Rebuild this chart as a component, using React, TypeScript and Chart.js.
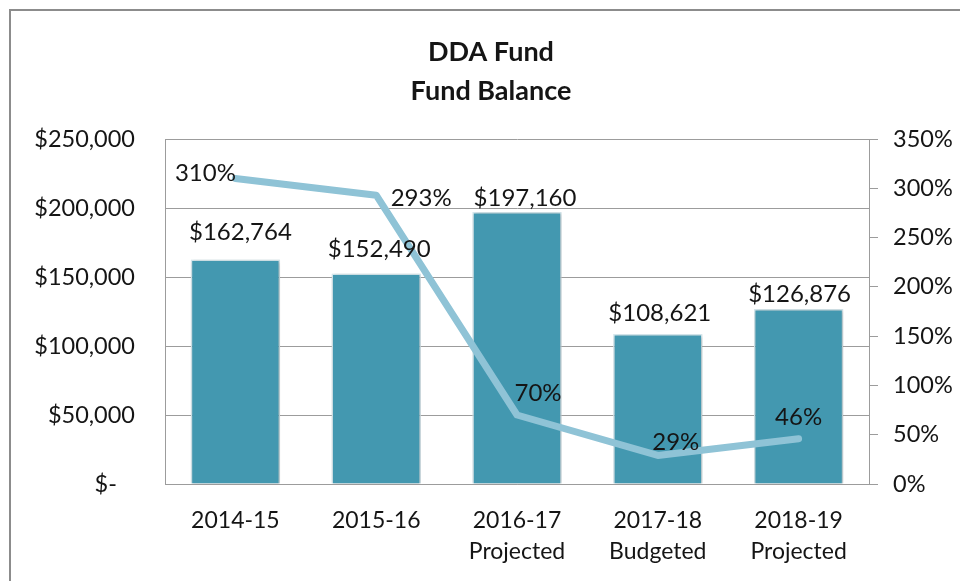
import React, { useEffect, useRef } from 'react';
import { Chart, registerables } from 'chart.js';

Chart.register(...registerables);

const titleLines = ['DDA Fund', 'Fund Balance'];
const categories: (string | string[])[] = [
  '2014-15',
  '2015-16',
  ['2016-17', 'Projected'],
  ['2017-18', 'Budgeted'],
  ['2018-19', 'Projected'],
];
const fundBalance = [162764, 152490, 197160, 108621, 126876];
const balancePercent = [310, 293, 70, 29, 46];
const balanceTicks = [0, 50000, 100000, 150000, 200000, 250000];
const percentTicks = [0, 50, 100, 150, 200, 250, 300, 350];

const FONT = 'Lato, "Open Sans", sans-serif';
const BAR_COLOR = '#4398b0';
const LINE_COLOR = '#8fc3d6';
const GRID_COLOR = '#9c9c9c';
const TEXT_COLOR = '#151515';

const fmtMoney = (v: number) => '$' + v.toLocaleString('en-US');

// label placement offsets (style), relative to library-computed element positions
const barLabelOffsets = [
  [5, -27],
  [3, -24],
  [8, -14],
  [2, -21],
  [1, -15],
];
const lineLabelOffsets = [
  [-30, -5],
  [45, 3],
  [21, -22],
  [18, -13],
  [0, -21],
];

const decorPlugin = {
  id: 'decor',
  beforeDatasetDraw(chart: any, args: any) {
    if (args.index === 0) {
      const ctx = chart.ctx;
      ctx.save();
      ctx.shadowColor = 'rgba(0,0,0,0.25)';
      ctx.shadowBlur = 4;
      ctx.shadowOffsetX = 1;
      ctx.shadowOffsetY = 1;
    }
  },
  afterDatasetDraw(chart: any, args: any) {
    if (args.index === 0) chart.ctx.restore();
  },
  afterDraw(chart: any) {
    const ctx = chart.ctx;
    const area = chart.chartArea;
    ctx.save();
    ctx.fillStyle = TEXT_COLOR;
    ctx.textAlign = 'center';
    ctx.textBaseline = 'middle';
    ctx.font = `bold 27px ${FONT}`;
    const cx = (area.left + area.right) / 2 - 26;
    ctx.fillText(titleLines[0], cx, 52);
    ctx.fillText(titleLines[1], cx, 91);

    ctx.font = `24px ${FONT}`;
    const barMeta = chart.getDatasetMeta(0);
    barMeta.data.forEach((el: any, i: number) => {
      const [dx, dy] = barLabelOffsets[i];
      ctx.fillText(fmtMoney(fundBalance[i]), el.x + dx, el.y + dy);
    });
    const lineMeta = chart.getDatasetMeta(1);
    lineMeta.data.forEach((el: any, i: number) => {
      const [dx, dy] = lineLabelOffsets[i];
      ctx.fillText(balancePercent[i] + '%', el.x + dx, el.y + dy);
    });
    ctx.restore();
  },
};

export default function App() {
  const ref = useRef<HTMLCanvasElement>(null);

  useEffect(() => {
    document.body.style.margin = '0';
    const canvas = ref.current!;
    const chart = new Chart(canvas, {
      type: 'bar',
      data: {
        labels: categories,
        datasets: [
          {
            type: 'bar',
            label: 'Fund Balance',
            data: fundBalance,
            backgroundColor: BAR_COLOR,
            borderColor: '#d8eaf0',
            borderWidth: 1.5,
            barPercentage: 0.635,
            categoryPercentage: 1,
            yAxisID: 'y',
            order: 1,
          },
          {
            type: 'line',
            label: 'Percent',
            data: balancePercent,
            borderColor: LINE_COLOR,
            borderWidth: 7,
            pointRadius: 0,
            tension: 0,
            borderCapStyle: 'round',
            borderJoinStyle: 'round',
            yAxisID: 'y1',
            order: 0,
          } as any,
        ],
      },
      options: {
        responsive: false,
        maintainAspectRatio: false,
        animation: false,
        devicePixelRatio: 1,
        layout: { padding: { top: 139, bottom: 0, left: 0, right: 0 } },
        plugins: {
          legend: { display: false },
          title: { display: false },
          tooltip: { enabled: false },
        },
        scales: {
          x: {
            grid: { display: false, drawTicks: false },
            border: { display: true, color: GRID_COLOR, width: 1 },
            ticks: {
              color: TEXT_COLOR,
              font: { family: FONT, size: 23, lineHeight: 31 / 23 },
              padding: 21,
              maxRotation: 0,
              autoSkip: false,
            },
            afterFit: (s: any) => {
              s.height = 97;
            },
          },
          y: {
            position: 'left',
            min: 0,
            max: 250000,
            afterBuildTicks: (s: any) => {
              s.ticks = balanceTicks.map((v) => ({ value: v }));
            },
            grid: { color: GRID_COLOR, drawTicks: false, lineWidth: 1 },
            border: { display: true, color: GRID_COLOR, width: 1 },
            ticks: {
              color: TEXT_COLOR,
              font: { family: FONT, size: 23.5 },
              padding: 30,
              callback: (v: any) => (Number(v) === 0 ? '$-   ' : fmtMoney(Number(v))),
            },
            afterFit: (s: any) => {
              s.width = 165;
            },
          },
          y1: {
            position: 'right',
            min: 0,
            max: 350,
            afterBuildTicks: (s: any) => {
              s.ticks = percentTicks.map((v) => ({ value: v }));
            },
            grid: {
              drawOnChartArea: false,
              drawTicks: true,
              tickLength: 9,
              tickColor: GRID_COLOR,
              color: GRID_COLOR,
            },
            border: { display: true, color: GRID_COLOR, width: 1 },
            ticks: {
              color: TEXT_COLOR,
              font: { family: FONT, size: 23.5 },
              padding: 15,
              callback: (v: any) => v + '%',
            },
            afterFit: (s: any) => {
              s.width = 91;
            },
          },
        },
      },
      plugins: [decorPlugin],
    });
    return () => chart.destroy();
  }, []);

  return (
    <div style={{ position: 'fixed', left: 0, top: 0, width: 960, height: 581, background: '#fff', overflow: 'hidden' }}>
      <div
        style={{
          position: 'absolute',
          left: 9,
          top: 9,
          width: 1000,
          height: 700,
          borderTop: '2px solid #8c8c8c',
          borderLeft: '2px solid #8c8c8c',
        }}
      />
      <canvas ref={ref} width={960} height={581} style={{ position: 'absolute', left: 0, top: 0, width: 960, height: 581 }} />
    </div>
  );
}
